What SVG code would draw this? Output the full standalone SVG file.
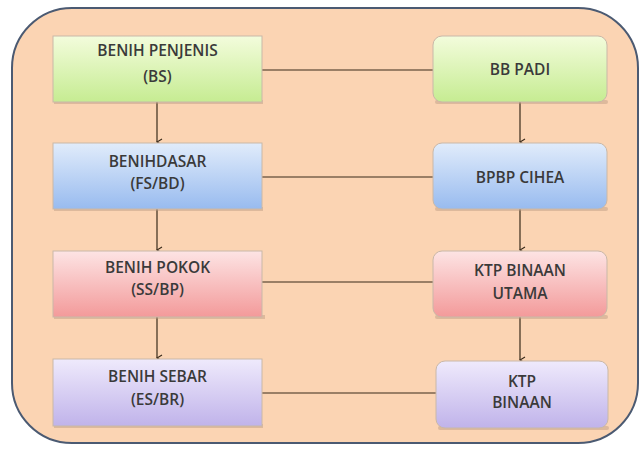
<svg xmlns="http://www.w3.org/2000/svg" width="642" height="449" viewBox="0 0 642 449">
<defs>
<linearGradient id="gG" x1="0" y1="0" x2="0" y2="1"><stop offset="0" stop-color="#f3fcdc"/><stop offset="1" stop-color="#c6ec92"/></linearGradient>
<linearGradient id="gB" x1="0" y1="0" x2="0" y2="1"><stop offset="0" stop-color="#e1ecfb"/><stop offset="1" stop-color="#98bbef"/></linearGradient>
<linearGradient id="gR" x1="0" y1="0" x2="0" y2="1"><stop offset="0" stop-color="#fde4e4"/><stop offset="1" stop-color="#f39a9a"/></linearGradient>
<linearGradient id="gP" x1="0" y1="0" x2="0" y2="1"><stop offset="0" stop-color="#efeafc"/><stop offset="1" stop-color="#c0b3ea"/></linearGradient>
<marker id="arr" markerWidth="8" markerHeight="8" refX="4" refY="7" orient="auto" markerUnits="userSpaceOnUse" viewBox="0 0 8 8">
<path d="M1,2 L4,7 L7,2" fill="none" stroke="#3a2a1a" stroke-width="1.2"/>
</marker>
</defs>
<style>
.t{font-family:"Open Sans","Liberation Sans",sans-serif;font-size:15.5px;font-weight:600;fill:#3a3a3a;text-anchor:middle}
.sh{fill:#b89a80;opacity:0.45}
.bx{stroke:#c9b8a8;stroke-width:1}
.ln{stroke:#3a2a1a;stroke-width:1.2;fill:none}
</style>
<rect width="642" height="449" fill="#ffffff"/>
<rect x="12" y="8" width="626" height="435" rx="60" ry="60" fill="#fbd4b3" stroke="#4b5a72" stroke-width="2"/>
<g id="connectors">
<line class="ln" x1="262" y1="70" x2="433" y2="70"/>
<line class="ln" x1="262" y1="177" x2="433" y2="177"/>
<line class="ln" x1="262" y1="282" x2="433" y2="282"/>
<line class="ln" x1="262" y1="393" x2="436" y2="393"/>
<line class="ln" x1="157" y1="102" x2="157" y2="142" marker-end="url(#arr)"/>
<line class="ln" x1="157" y1="209" x2="157" y2="250" marker-end="url(#arr)"/>
<line class="ln" x1="157" y1="317" x2="157" y2="358" marker-end="url(#arr)"/>
<line class="ln" x1="520" y1="102" x2="520" y2="142" marker-end="url(#arr)"/>
<line class="ln" x1="520" y1="209" x2="520" y2="250" marker-end="url(#arr)"/>
<line class="ln" x1="520" y1="317" x2="520" y2="360" marker-end="url(#arr)"/>
</g>
<g id="bs">
<rect class="sh" x="54" y="100" width="209" height="4"/>
<rect class="bx" x="53" y="36" width="209" height="66" fill="url(#gG)"/>
<text class="t" x="157.5" y="56">BENIH PENJENIS</text>
<text class="t" x="157.5" y="82">(BS)</text>
</g>
<g id="fs">
<rect class="sh" x="54" y="207" width="209" height="4"/>
<rect class="bx" x="53" y="143" width="209" height="66" fill="url(#gB)"/>
<text class="t" x="157.5" y="167">BENIHDASAR</text>
<text class="t" x="157.5" y="189">(FS/BD)</text>
</g>
<g id="ss">
<rect class="sh" x="54" y="315" width="211" height="4"/>
<rect class="bx" x="53" y="251" width="209" height="66" fill="url(#gR)"/>
<text class="t" x="157.5" y="273">BENIH POKOK</text>
<text class="t" x="157.5" y="295">(SS/BP)</text>
</g>
<g id="es">
<rect class="sh" x="54" y="424" width="209" height="4"/>
<rect class="bx" x="53" y="359" width="209" height="67" fill="url(#gP)"/>
<text class="t" x="157.5" y="382">BENIH SEBAR</text>
<text class="t" x="157.5" y="405">(ES/BR)</text>
</g>
<g id="bbpadi">
<rect class="sh" x="435" y="100" width="173" height="4" rx="2"/>
<rect class="bx" x="433" y="36" width="174" height="66" rx="9" fill="url(#gG)"/>
<text class="t" x="520" y="75">BB PADI</text>
</g>
<g id="bpbp">
<rect class="sh" x="435" y="207" width="173" height="4" rx="2"/>
<rect class="bx" x="433" y="143" width="174" height="66" rx="9" fill="url(#gB)"/>
<text class="t" x="520" y="183">BPBP CIHEA</text>
</g>
<g id="ktputama">
<rect class="sh" x="435" y="315" width="173" height="4" rx="2"/>
<rect class="bx" x="433" y="251" width="174" height="66" rx="9" fill="url(#gR)"/>
<text class="t" x="520" y="276">KTP BINAAN</text>
<text class="t" x="520" y="299">UTAMA</text>
</g>
<g id="ktp">
<rect class="sh" x="438" y="426" width="171" height="4" rx="2"/>
<rect class="bx" x="436" y="361" width="172" height="67" rx="9" fill="url(#gP)"/>
<text class="t" x="522" y="387">KTP</text>
<text class="t" x="522" y="408">BINAAN</text>
</g>
</svg>
